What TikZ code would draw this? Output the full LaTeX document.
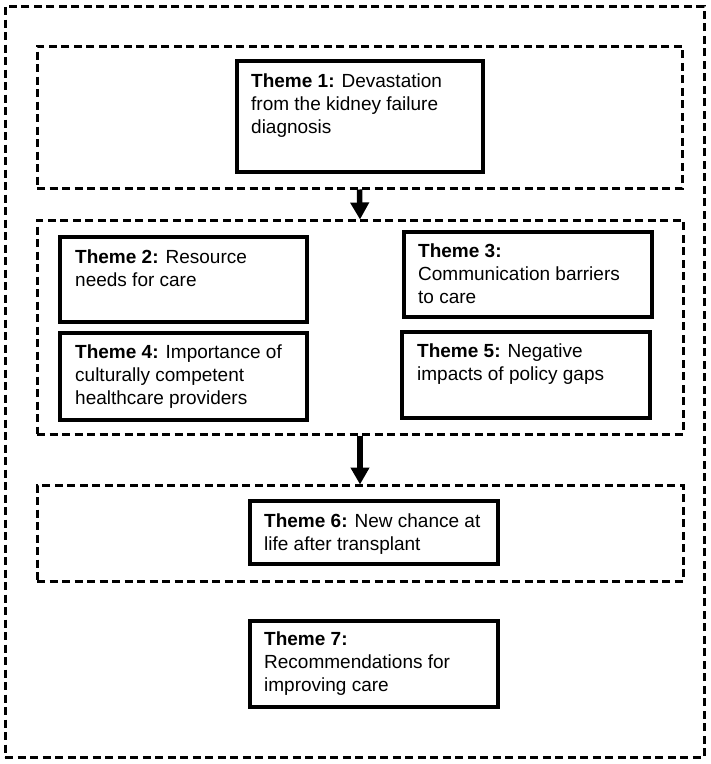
\documentclass[tikz,border=0pt]{standalone}
\usepackage{fontspec}
\setmainfont{Liberation Sans}
\usetikzlibrary{arrows.meta}
\begin{document}
\begin{tikzpicture}[x=1pt,y=-1pt,
  grp/.style={draw=black, line width=3pt, dash pattern=on 8pt off 4.5pt, rectangle, inner sep=0pt},
  themebox/.style={draw=black, line width=3.2pt, rectangle, inner sep=0pt},
  txt/.style={inner sep=0pt, anchor=base west, font=\fontsize{19}{23}\selectfont},
  flow/.style={line width=5.5pt, -{Triangle[length=17pt,width=18pt]}, shorten >=-1pt}
]
\fill[white] (0,0) rectangle (711,764);
\useasboundingbox (0,0) rectangle (711,764);
% outer dashed frame
\node[grp, minimum width=699pt, minimum height=751pt] (outer) at (354.5,381.5) {};
% group boxes
\node[grp, minimum width=645pt, minimum height=142pt] (gA) at (359.5,117) {};
\node[grp, minimum width=646pt, minimum height=214pt] (gB) at (360,327) {};
\node[grp, minimum width=646pt, minimum height=96pt] (gC) at (360,533) {};
% theme boxes
\node[themebox, minimum width=246pt, minimum height=111pt] (t1) at (360,116.5) {};
\node[themebox, minimum width=247pt, minimum height=85pt] (t2) at (183.5,279.5) {};
\node[themebox, minimum width=248pt, minimum height=85pt] (t3) at (528,274.5) {};
\node[themebox, minimum width=247pt, minimum height=87pt] (t4) at (183.5,376.5) {};
\node[themebox, minimum width=248pt, minimum height=86pt] (t5) at (526,375) {};
\node[themebox, minimum width=248pt, minimum height=63pt] (t6) at (374,532.5) {};
\node[themebox, minimum width=248pt, minimum height=86pt] (t7) at (374,664) {};
% texts
\node[txt] (t1l) at (251,87) {\parbox[t]{230pt}{\textbf{Theme 1:} Devastation\\from the kidney failure\\diagnosis}};
\node[txt] (t2l) at (75,263) {\parbox[t]{230pt}{\textbf{Theme 2:} Resource\\needs for care}};
\node[txt] (t3l) at (418,257) {\parbox[t]{230pt}{\textbf{Theme 3:}\\Communication barriers\\to care}};
\node[txt] (t4l) at (75,358) {\parbox[t]{230pt}{\textbf{Theme 4:} Importance of\\culturally competent\\healthcare providers}};
\node[txt] (t5l) at (417,357) {\parbox[t]{230pt}{\textbf{Theme 5:} Negative\\impacts of policy gaps}};
\node[txt] (t6l) at (264,527) {\parbox[t]{230pt}{\textbf{Theme 6:} New chance at\\life after transplant}};
\node[txt] (t7l) at (264,645) {\parbox[t]{230pt}{\textbf{Theme 7:}\\Recommendations for\\improving care}};
% arrows
\draw[flow] (gA.south) -- (gB.north);
\draw[flow] (gB.south) -- (gC.north);
\end{tikzpicture}
\end{document}
